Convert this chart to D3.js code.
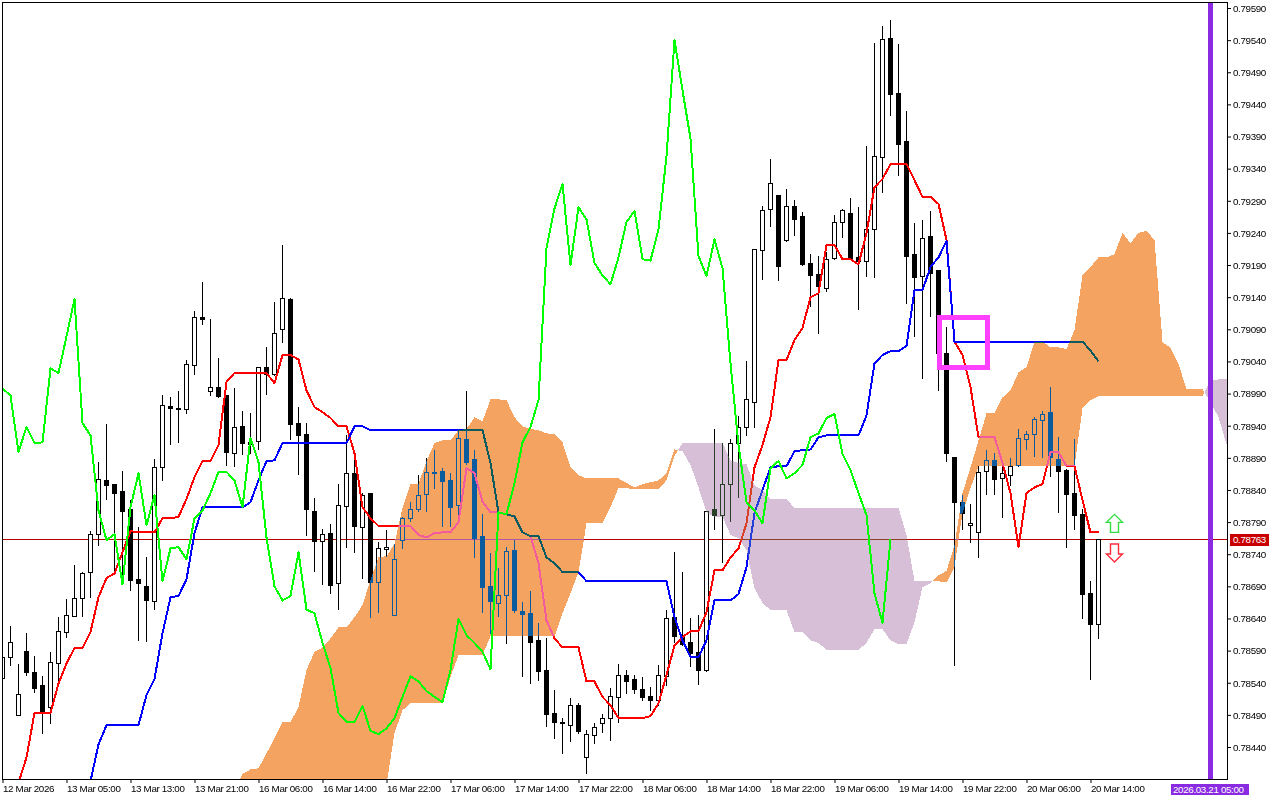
<!DOCTYPE html>
<html><head><meta charset="utf-8">
<style>html,body{margin:0;padding:0;background:#fff;overflow:hidden}svg{display:block}
text{font-family:"Liberation Sans",Arial,sans-serif;font-size:9.8px;letter-spacing:-0.35px;fill:#000}</style>
<script src="https://cdn.jsdelivr.net/npm/d3@7/dist/d3.min.js"></script>
</head><body><svg id="c" width="1280" height="800"></svg>
<script>
// All prices are in 0.00001 units (78763 = 0.78763). One candle per hour.
const open=[78547,78580,78490,78589,78556,78536,78502,78570,78619,78644,
78672,78712,78771,78855,78849,78838,78810,78701,78690,78667,
78875,78970,78967,78966,79034,79109,78994,79000,78987,78897,
78939,78914,78916,79031,79020,79090,79137,78944,78927,78808,
78760,78773,78695,78815,78866,78782,78835,78696,78748,78645,
78762,78796,78810,78833,78866,78869,78855,78816,78919,78888,
78768,78690,78664,78676,78746,78651,78648,78606,78560,78493,
78479,78475,78505,78424,78458,78477,78485,78518,78552,78546,
78530,78519,78513,78550,78642,78611,78603,78588,78560,78810,
78801,78849,78913,78938,78977,79213,79277,79299,79229,79282,
79266,79193,79176,79155,79201,79257,79271,79202,79196,79246,
79358,79543,79457,79383,79207,79173,79235,79182,79053,78891,
78821,78785,78774,78869,78886,78858,78863,78879,78919,78927,
78949,78961,78888,78871,78835,78802,78679,78631];
const close=[78580,78603,78522,78556,78532,78494,78572,78620,78645,78672,
78710,78771,78857,78847,78836,78807,78700,78695,78668,78875,
78972,78967,78966,79036,79109,79106,79000,78986,78899,78938,
78913,78911,79031,79020,79085,79138,78942,78925,78810,78760,
78771,78692,78816,78866,78784,78832,78696,78749,78752,78732,
78796,78810,78832,78868,78868,78854,78813,78921,78883,78766,
78689,78667,78676,78745,78653,78647,78603,78558,78491,78479,
78478,78505,78465,78460,78471,78485,78519,78552,78542,78530,
78518,78513,78552,78640,78612,78600,78586,78560,78807,78801,
78849,78913,78938,78981,79215,79275,79317,79188,79282,79261,
79191,79174,79157,79199,79257,79275,79199,79196,79246,79359,
79541,79456,79378,79204,79171,79232,79177,79053,78897,78821,
78804,78788,78868,78886,78857,78866,78877,78921,78927,78950,
78958,78891,78869,78833,78801,78678,78631,78763];
const high=[78606,78628,78569,78617,78581,78550,78588,78642,78670,78723,
78712,78776,78883,78942,78849,78869,78824,78782,78735,78888,
78987,78984,78994,79042,79118,79163,79106,79045,78987,78998,
78963,78959,79031,79062,79132,79221,79138,78969,78944,78827,
78780,78787,78849,78925,78886,78836,78835,78759,78777,78756,
78798,78821,78863,78889,78902,78874,78866,78933,78994,78902,
78802,78742,78718,78752,78762,78665,78682,78633,78609,78528,
78485,78516,78508,78466,78477,78491,78532,78569,78560,78552,
78549,78533,78567,78653,78743,78712,78640,78645,78808,78935,
78913,78919,78955,79040,79215,79282,79355,79299,79308,79291,
79272,79207,79204,79210,79268,79277,79294,79280,79375,79535,
79562,79572,79534,79429,79255,79260,79274,79182,79093,78891,
78832,78818,78877,78902,78897,78879,78889,78935,78931,78953,
78963,79000,78922,78872,78919,78810,78698,78763];
const low=[78544,78567,78490,78552,78525,78462,78477,78539,78611,78644,
78644,78673,78754,78826,78715,78695,78684,78606,78605,78654,
78855,78911,78914,78959,79020,79098,78987,78984,78879,78877,
78896,78897,78903,78989,79019,79070,78919,78865,78770,78714,
78693,78679,78654,78752,78743,78703,78642,78650,78737,78645,
78749,78791,78807,78807,78843,78784,78784,78799,78880,78735,
78650,78617,78644,78602,78650,78550,78539,78544,78472,78454,
78430,78449,78462,78399,78446,78463,78451,78479,78524,78524,
78513,78497,78505,78536,78603,78598,78566,78538,78558,78780,
78728,78791,78829,78925,78938,79169,79250,79166,79227,79236,
79190,79127,79085,79149,79199,79233,79199,79121,79173,79171,
79303,79423,79330,79131,79079,79015,79110,78995,78885,78567,
78780,78759,78735,78833,78833,78798,78847,78877,78903,78893,
78891,78861,78805,78752,78780,78640,78546,78609];
// Conversion line (null: below the visible range)
const tenkan=[null,null,78384,78424,78493,78493,78493,78539,78570,78594,
78594,78619,78673,78703,78710,78743,78776,78774,78774,78774,
78796,78796,78798,78826,78860,78885,78885,78910,79008,79022,
79022,79022,79022,79022,79006,79050,79050,79043,78995,78969,
78961,78952,78939,78939,78897,78813,78796,78784,78784,78784,
78784,78784,78770,78766,78773,78774,78774,78790,78874,78866,
78822,78805,78805,78802,78799,78774,78768,78726,78637,78609,
78595,78595,78595,78542,78542,78518,78505,78485,78485,78485,
78485,78488,78508,78552,78598,78611,78620,78620,78650,78715,
78715,78735,78749,78788,78875,78910,78953,79042,79042,79073,
79092,79140,79146,79221,79221,79199,79199,79191,79240,79311,
79324,79347,79347,79347,79322,79296,79296,79285,79229,79071,
79050,79000,78922,78922,78922,78882,78835,78751,78835,78844,
78849,78899,78899,78877,78877,78824,78774,78774];
// Base line
const kijun=[null,null,null,null,null,null,null,null,null,null,null,
78387,78444,78474,78474,78474,78474,78474,78521,78546,78617,
78673,78675,78701,78773,78813,78813,78813,78813,78813,78813,
78821,78855,78885,78886,78913,78913,78913,78913,78913,78913,
78913,78913,78913,78939,78939,78933,78933,78933,78933,78933,
78933,78933,78933,78933,78933,78933,78933,78933,78933,78933,
78882,78805,78802,78799,78774,78768,78768,78735,78726,78712,
78712,78712,78698,78698,78698,78698,78698,78698,78698,78698,
78698,78698,78698,78642,78606,78580,78580,78606,78668,78668,
78668,78678,78720,78804,78840,78875,78877,78877,78900,78902,
78903,78922,78925,78925,78925,78925,78925,78956,79037,79050,
79056,79056,79064,79151,79151,79187,79202,79227,79071,79071,
79071,79071,79071,79071,79071,79071,79071,79071,79071,79071,
79071,79071,79071,79071,79071,79057,79040];
// Lagging span
const chikou=[78998,78987,78899,78938,78913,78914,79029,79022,79079,79137,
78944,78925,78808,78762,78771,78693,78813,78866,78785,78832,
78698,78749,78751,78732,78796,78808,78835,78868,78868,78855,
78813,78921,78883,78766,78690,78668,78675,78743,78654,78648,
78602,78563,78493,78479,78479,78504,78465,78460,78469,78485,
78518,78550,78542,78527,78518,78510,78560,78639,78614,78602,
78588,78561,78805,78802,78851,78914,78938,78980,79216,79278,
79316,79190,79280,79261,79193,79174,79160,79202,79257,79274,
79199,79197,79246,79359,79540,79462,79387,79204,79173,79230,
79185,79037,78910,78821,78808,78788,78874,78885,78858,78866,
78879,78922,78928,78952,78958,78896,78871,78835,78801,78679,
78633,78763];
// Leading spans, first value belongs to bar index cloudStart
const cloudStart=29;
const spanA=[78373,78398,78405,78407,78430,78454,78479,78479,78502,78560,78588,
78595,78609,78626,78626,78642,78661,78700,78735,78737,78756,
78812,78849,78849,78885,78913,78917,78917,78933,78935,78953,
78947,78981,78981,78980,78953,78939,78935,78933,78928,78927,
78914,78875,78863,78858,78858,78858,78858,78858,78851,78844,
78849,78852,78855,78866,78903,78900,78879,78844,78805,78798,
78798,78770,78765,78746,78687,78664,78653,78653,78653,78619,
78619,78606,78602,78591,78591,78591,78591,78591,78602,78623,
78623,78606,78600,78600,78634,78689,78695,78707,78714,78754,
78835,78875,78917,78959,78959,78984,78995,79023,79031,79071,
79071,79062,79062,79059,79089,79174,79187,79202,79202,79207,
79240,79224,79240,79243,79229,79070,79061,79036,78997,78997,
78997,78977,78953,78911];
const spanB=[78357,78357,78357,78357,78357,78357,78357,78357,78357,78357,78357,
78357,78357,78357,78357,78357,78357,78357,78357,78381,
78462,78497,78508,78508,78508,78508,78508,78549,78583,78583,
78583,78583,78612,78612,78612,78612,78612,78612,78612,78612,
78612,78648,78679,78712,78788,78788,78788,78813,78843,78843,
78841,78841,78841,78841,78855,78893,78913,78913,78913,78913,
78913,78913,78886,78882,78880,78847,78840,78826,78826,78826,
78812,78812,78812,78812,78812,78812,78812,78812,78812,78812,
78812,78812,78812,78812,78770,78698,78698,78698,78698,78696,
78720,78804,78843,78877,78877,78877,78877,78877,78877,78877,
78877,78877,78877,78877,78877,78877,78967,78980,78986,78986,
78986,78986,78986,78986,78986,78986,78986,78986,78986,78986,
78986,78986,79011,79012,79012];
const priceTicks=[79590,79540,79490,79440,79390,79340,79290,79240,79190,79140,79090,79040,
78990,78940,78890,78840,78790,78740,78690,78640,78590,78540,78490,78440];
const timeLabels=["12 Mar 2026","13 Mar 05:00","13 Mar 13:00","13 Mar 21:00","16 Mar 06:00","16 Mar 14:00",
"16 Mar 22:00","17 Mar 06:00","17 Mar 14:00","17 Mar 22:00","18 Mar 06:00","18 Mar 14:00",
"18 Mar 22:00","19 Mar 06:00","19 Mar 14:00","19 Mar 22:00","20 Mar 06:00","20 Mar 14:00"];
const timeLabelEvery=8;
const lastPrice=78763;
const markerBar=151, markerLabel="2026.03.21 05:00";
const boxBars=[117.125,123.125], boxPrices=[79109,79031];
const upArrow={bar:139,price:78802}, downArrow={bar:139,price:78728};

const W=1280,H=800,plotL=2,plotR=1227,plotT=2,plotB=779;
const x=d3.scaleLinear().domain([0,137]).range([2.5,1098.5]);
const y=d3.scaleLinear().domain([78440,79590]).range([747,8]);
const px=v=>Math.round(y(v));
const svg=d3.select("#c");
svg.append("rect").attr("width",W).attr("height",H).attr("fill","#fff");
const defs=svg.append("defs");
defs.append("clipPath").attr("id","plot").append("rect").attr("x",plotL).attr("y",plotT).attr("width",plotR-plotL).attr("height",plotB-plotT);

// last price line
svg.append("line").attr("x1",plotL).attr("x2",plotR).attr("y1",px(lastPrice)+.5).attr("y2",px(lastPrice)+.5)
  .attr("stroke","#b80000").attr("shape-rendering","crispEdges");

// candles
const idx=d3.range(open.length);
const g=svg.append("g").attr("clip-path","url(#plot)").attr("shape-rendering","crispEdges");
g.selectAll("line.w").data(idx).join("line").attr("class","w")
  .attr("x1",i=>x(i)).attr("x2",i=>x(i)).attr("y1",i=>px(high[i])).attr("y2",i=>px(low[i])+1)
  .attr("stroke","#000");
g.selectAll("rect.b").data(idx).join("rect").attr("class","b")
  .attr("x",i=>x(i)-2).attr("width",4)
  .attr("y",i=>px(Math.max(open[i],close[i]))+.5)
  .attr("height",i=>Math.max(0,px(Math.min(open[i],close[i]))-px(Math.max(open[i],close[i]))))
  .attr("fill",i=>close[i]>open[i]?"#fff":"#000").attr("stroke","#000");

// lines
const mk=(arr)=>d3.line().defined(i=>arr[i]!=null).x(i=>x(i)).y(i=>y(arr[i]))(d3.range(arr.length));
const ln=(arr,c)=>svg.append("path").attr("d",mk(arr)).attr("fill","none").attr("stroke",c).attr("stroke-width",2)
  .attr("stroke-linejoin","round").attr("clip-path","url(#plot)").attr("shape-rendering","crispEdges");
ln(tenkan,"#ff0000"); ln(kijun,"#0000ff");

// cloud regions: split where the spans cross
const regions=[];let cur=null;
const area=d3.area().x(d=>x(d.k)).y0(d=>y(d.a)).y1(d=>y(d.b));
spanA.forEach((a,j)=>{
  const b=spanB[j],k=cloudStart+j,s=a>=b?1:-1;
  if(cur&&cur.s!==s){
    const a0=spanA[j-1],b0=spanB[j-1],t=(b0-a0)/((a-a0)-(b-b0)),pa=a0+(a-a0)*t;
    const c={k:k-1+t,a:pa,b:pa};cur.pts.push(c);regions.push(cur);cur={s,pts:[c]};
  }
  if(!cur)cur={s,pts:[]};
  cur.pts.push({k,a,b});
});
regions.push(cur);
// the terminal's cloud inverts what lies under it
regions.forEach(r=>svg.append("path").attr("d",area(r.pts)).attr("fill",r.s>0?"#0b5b9f":"#274027")
  .attr("clip-path","url(#plot)").attr("shape-rendering","crispEdges").style("mix-blend-mode","difference"));

ln(chikou,"#00ff00");

// time marker
svg.append("line").attr("x1",x(markerBar)).attr("x2",x(markerBar)).attr("y1",plotT).attr("y2",plotB)
  .attr("stroke","#8a2be2").attr("stroke-width",5).attr("shape-rendering","crispEdges");

// box
svg.append("rect").attr("x",x(boxBars[0])).attr("width",x(boxBars[1])-x(boxBars[0]))
  .attr("y",y(boxPrices[0])).attr("height",y(boxPrices[1])-y(boxPrices[0]))
  .attr("fill","none").attr("stroke","#ff40ff").attr("stroke-width",5).attr("shape-rendering","crispEdges");

// arrows
const arrow=(a,dir,c)=>{
  const cx=x(a.bar),t=y(a.price),s=dir;
  const d=`M${cx},${t}L${cx+8},${t+s*8}L${cx+4},${t+s*8}L${cx+4},${t+s*18}L${cx-4},${t+s*18}L${cx-4},${t+s*8}L${cx-8},${t+s*8}Z`;
  svg.append("path").attr("d",d).attr("fill","#fff").attr("stroke",c).attr("stroke-width",1.4);
};
arrow(upArrow,1,"#33dd44"); arrow(downArrow,-1,"#ff2a3a");

// frame and axes
svg.append("path").attr("d",`M${plotL+.5},${plotB}V${plotT+.5}H${plotR+.5}V${plotB+1}M${plotL},${plotB+.5}H${plotR+1}`)
  .attr("fill","none").attr("stroke","#000").attr("shape-rendering","crispEdges");
const ax=d3.axisRight(y).tickValues(priceTicks).tickFormat(d=>(d/1e5).toFixed(5)).tickSize(4).tickPadding(2).tickSizeOuter(0);
const ya=svg.append("g").attr("transform",`translate(${plotR},0)`).call(ax);
ya.select(".domain").remove();
ya.selectAll("text").attr("dy","0.34em");
ya.selectAll("line").attr("stroke","#000");

const tx=d3.axisBottom(x).tickValues(timeLabels.map((_,i)=>i*timeLabelEvery)).tickFormat((d,i)=>timeLabels[i]).tickSize(4).tickSizeOuter(0);
const xa=svg.append("g").attr("transform",`translate(0,${plotB})`).call(tx);
xa.select(".domain").remove();
xa.selectAll("line").attr("stroke","#000");
xa.selectAll("text").attr("text-anchor","start").attr("x",0).attr("y",6).attr("dy","0.71em");
xa.attr("font-family",null).attr("font-size",null);ya.attr("font-family",null).attr("font-size",null);

// price tag + date tag
svg.append("rect").attr("x",plotR+3).attr("y",px(lastPrice)-5).attr("width",39).attr("height",12).attr("fill","#c80000");
svg.append("text").attr("x",plotR+6).attr("y",px(lastPrice)+4).style("fill","#fff").text((lastPrice/1e5).toFixed(5));
svg.append("rect").attr("x",1171).attr("y",784).attr("width",78).attr("height",11).attr("fill","#8a2be2");
svg.append("text").attr("x",1173).attr("y",793).style("fill","#fff").text(markerLabel);
</script></body></html>
